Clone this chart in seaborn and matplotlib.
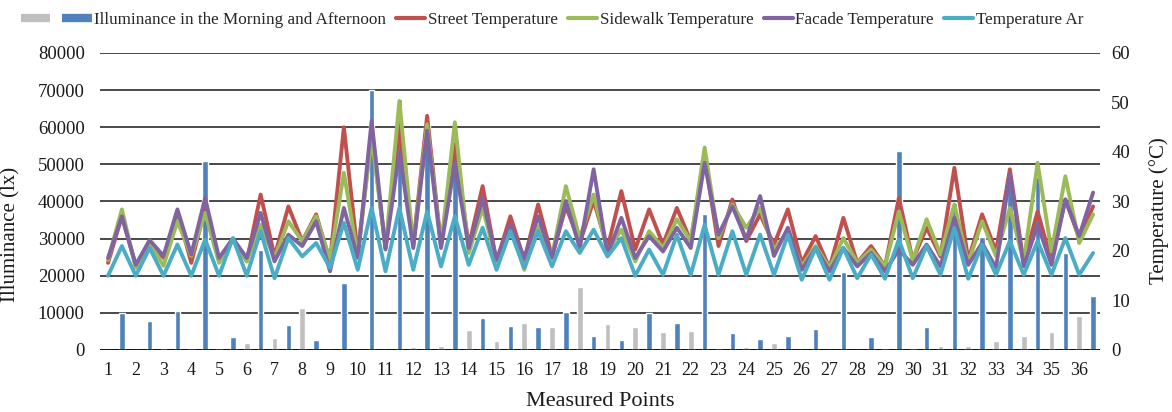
import numpy as np
import pandas as pd
import matplotlib
matplotlib.use("Agg")
import matplotlib.pyplot as plt
import seaborn as sns
from matplotlib.lines import Line2D

sns.set_theme(style="white")
plt.rcParams["font.family"] = ["Liberation Serif", "DejaVu Serif"]

# ---- data -------------------------------------------------------------
points = [str(i) for i in range(1, 37)]

# illuminance (lx), two readings per measured point
illum_gray = [0, 0, 300, 500, 500, 1800, 3200, 11200, 0, 0, 0, 700,
              1200, 5500, 2500, 7200, 6300, 17000, 7100, 6300, 4900, 5000, 500, 800,
              2000, 0, 0, 0, 400, 400, 1200, 1200, 2500, 3700, 4900, 9200]
illum_blue = [10000, 7800, 10500, 51000, 3500, 27000, 6700, 2800, 18000, 70000, 67500, 61000,
              55000, 8600, 6500, 6100, 10200, 3800, 2600, 9900, 7300, 36500, 4600, 3000,
              3800, 5600, 21000, 3500, 53500, 6200, 39500, 30500, 44000, 46600, 26000, 14600]

# temperatures (°C), morning / afternoon for every measured point
street = [17.6, 27.0, 17.0, 22.0, 18.6, 28.0, 17.6, 28.7,
          18.2, 22.5, 17.9, 31.4, 18.9, 29.0, 22.0, 27.4,
          17.9, 45.0, 19.3, 44.0, 20.6, 45.0, 21.3, 47.3,
          21.3, 41.6, 21.0, 33.1, 17.9, 27.0, 18.2, 29.4,
          18.9, 29.0, 21.6, 30.2, 20.6, 32.1, 20.3, 28.4,
          21.3, 28.7, 22.0, 38.9, 21.0, 30.4, 22.0, 27.4,
          21.3, 28.4, 17.6, 23.0, 16.6, 26.7, 17.6, 21.0,
          16.9, 30.7, 18.2, 24.7, 18.9, 36.8, 18.2, 27.4,
          19.9, 36.5, 17.6, 28.0, 17.9, 30.4, 22.6, 29.0]
sidewalk = [18.2, 28.4, 16.6, 21.6, 17.0, 26.0, 19.0, 27.7,
            17.6, 22.5, 17.9, 25.3, 18.6, 26.0, 22.0, 27.0,
            18.2, 35.8, 19.0, 43.0, 20.6, 50.3, 21.0, 45.6,
            21.0, 46.0, 19.6, 28.7, 17.9, 25.0, 16.2, 25.0,
            18.9, 33.1, 22.6, 31.4, 19.9, 24.3, 17.9, 24.0,
            20.6, 26.4, 22.0, 40.9, 22.6, 29.4, 24.7, 28.7,
            20.3, 24.0, 16.9, 21.0, 16.6, 22.6, 17.6, 20.3,
            16.9, 28.0, 18.2, 26.4, 19.3, 29.4, 17.6, 26.0,
            19.0, 28.7, 17.9, 37.8, 19.9, 35.1, 21.6, 27.4]
facade = [18.6, 27.0, 17.2, 22.2, 19.0, 28.4, 19.3, 30.7,
          18.6, 22.5, 18.6, 27.7, 17.9, 23.3, 21.0, 26.0,
          15.9, 28.7, 18.6, 46.3, 20.3, 40.0, 20.6, 44.3,
          20.6, 37.8, 20.6, 30.7, 18.2, 25.3, 18.6, 27.0,
          18.6, 30.1, 20.6, 36.5, 19.3, 26.7, 18.6, 23.0,
          19.9, 24.7, 20.6, 37.8, 23.3, 29.0, 22.3, 31.1,
          19.0, 24.7, 16.2, 20.6, 15.9, 20.6, 16.9, 19.6,
          15.9, 20.3, 17.2, 21.3, 16.9, 26.7, 17.2, 21.6,
          16.6, 35.5, 16.9, 25.3, 17.2, 30.4, 23.0, 31.8]
air = [15.0, 21.0, 15.0, 20.6, 15.0, 21.3, 15.0, 22.3,
       15.0, 22.6, 15.0, 24.0, 14.5, 22.6, 18.9, 21.6,
       16.6, 25.7, 16.2, 28.7, 15.9, 28.7, 16.2, 28.0,
       16.9, 27.0, 17.2, 24.7, 16.2, 24.0, 16.6, 24.0,
       16.9, 24.0, 19.6, 24.3, 18.9, 22.6, 15.0, 20.3,
       15.2, 23.3, 15.2, 25.3, 15.2, 24.0, 15.2, 23.3,
       15.2, 23.3, 14.2, 20.6, 14.2, 20.6, 14.5, 19.3,
       14.4, 22.3, 14.5, 21.0, 15.2, 24.7, 14.4, 21.3,
       15.2, 22.0, 15.2, 22.0, 15.2, 22.6, 15.2, 19.6]

series_names = ["Street Temperature", "Sidewalk Temperature",
                "Facade Temperature", "Temperature Ar"]
series_colors = ["#C0504D", "#9BBB59", "#8064A2", "#4BACC6"]
bar_label = "Illuminance in the Morning and Afternoon"
bar_colors = {"gray": "#BFBFBF", "blue": "#4F81BD"}

# ---- tidy frames ------------------------------------------------------
n = len(points)
slots = np.arange(2 * n)
bars = pd.DataFrame({
    "slot": np.concatenate([slots[0::2], slots[1::2]]),
    "lux": illum_gray + illum_blue,
    "kind": ["gray"] * n + ["blue"] * n,
})
temps = pd.DataFrame({
    "slot": np.tile(slots, 4),
    "temp": street + sidewalk + facade + air,
    "series": np.repeat(series_names, 2 * n),
})

# ---- figure -----------------------------------------------------------
fig = plt.figure(figsize=(11.72, 4.12), dpi=100)
ax = fig.add_axes([0.0853, 0.1505, 0.8533, 0.7209])

sns.barplot(data=bars, x="slot", y="lux", hue="kind", palette=bar_colors,
            native_scale=True, dodge=False, width=0.4, ax=ax, legend=False,
            saturation=1, errorbar=None)

ax.set_ylim(0, 80000)
ax.set_yticks(range(0, 80001, 10000))
ax.set_xlim(-0.58, 71.5)
ax.set_xticks(slots[0::2])
ax.set_xticklabels(points)
ax.yaxis.grid(True, color="#3a3a3a", linewidth=1.3)
ax.set_axisbelow(True)
ax.axhline(0, color="black", linewidth=1.8, zorder=3)
for s in ax.spines.values():
    s.set_visible(False)
ax.tick_params(axis="both", length=0, labelsize=13, colors="#1a1a1a")
ax.tick_params(axis="x", pad=9)
ax.tick_params(axis="y", pad=11, labelsize=13.5)
ax.set_xlabel("Measured Points", fontsize=16, labelpad=9, color="#1a1a1a")
ax.set_ylabel("Illuminance (lx)", fontsize=15, color="#1a1a1a")
ax.yaxis.set_label_coords(-0.079, 0.39)

ax2 = ax.twinx()
sns.lineplot(data=temps, x="slot", y="temp", hue="series",
             hue_order=series_names, palette=series_colors, linewidth=2.8,
             sort=False, ax=ax2, legend=False)
ax2.set_ylim(0, 60)
ax2.set_yticks(range(0, 61, 10))
ax2.set_xlim(-0.58, 71.5)
for s in ax2.spines.values():
    s.set_visible(False)
ax2.tick_params(axis="y", length=0, labelsize=13.5, pad=8, colors="#1a1a1a")
ax2.set_ylabel("Temperature (°C)", fontsize=15, color="#1a1a1a")
ax2.yaxis.set_label_coords(1.049, 0.47)
ax2.grid(False)

# ---- legend -----------------------------------------------------------
handles = [Line2D([], [], color=bar_colors["gray"], linewidth=6, solid_capstyle="butt"),
           Line2D([], [], color=bar_colors["blue"], linewidth=6, solid_capstyle="butt")]
handles += [Line2D([], [], color=c, linewidth=3) for c in series_colors]
labels = ["", bar_label] + series_names
fig.legend(handles, labels, loc="center", bbox_to_anchor=(0.471, 0.951), ncol=6,
           frameon=False, fontsize=12.3, handlelength=1.7, handletextpad=0.15,
           columnspacing=0.6)

fig.savefig("out.png", dpi=100)
